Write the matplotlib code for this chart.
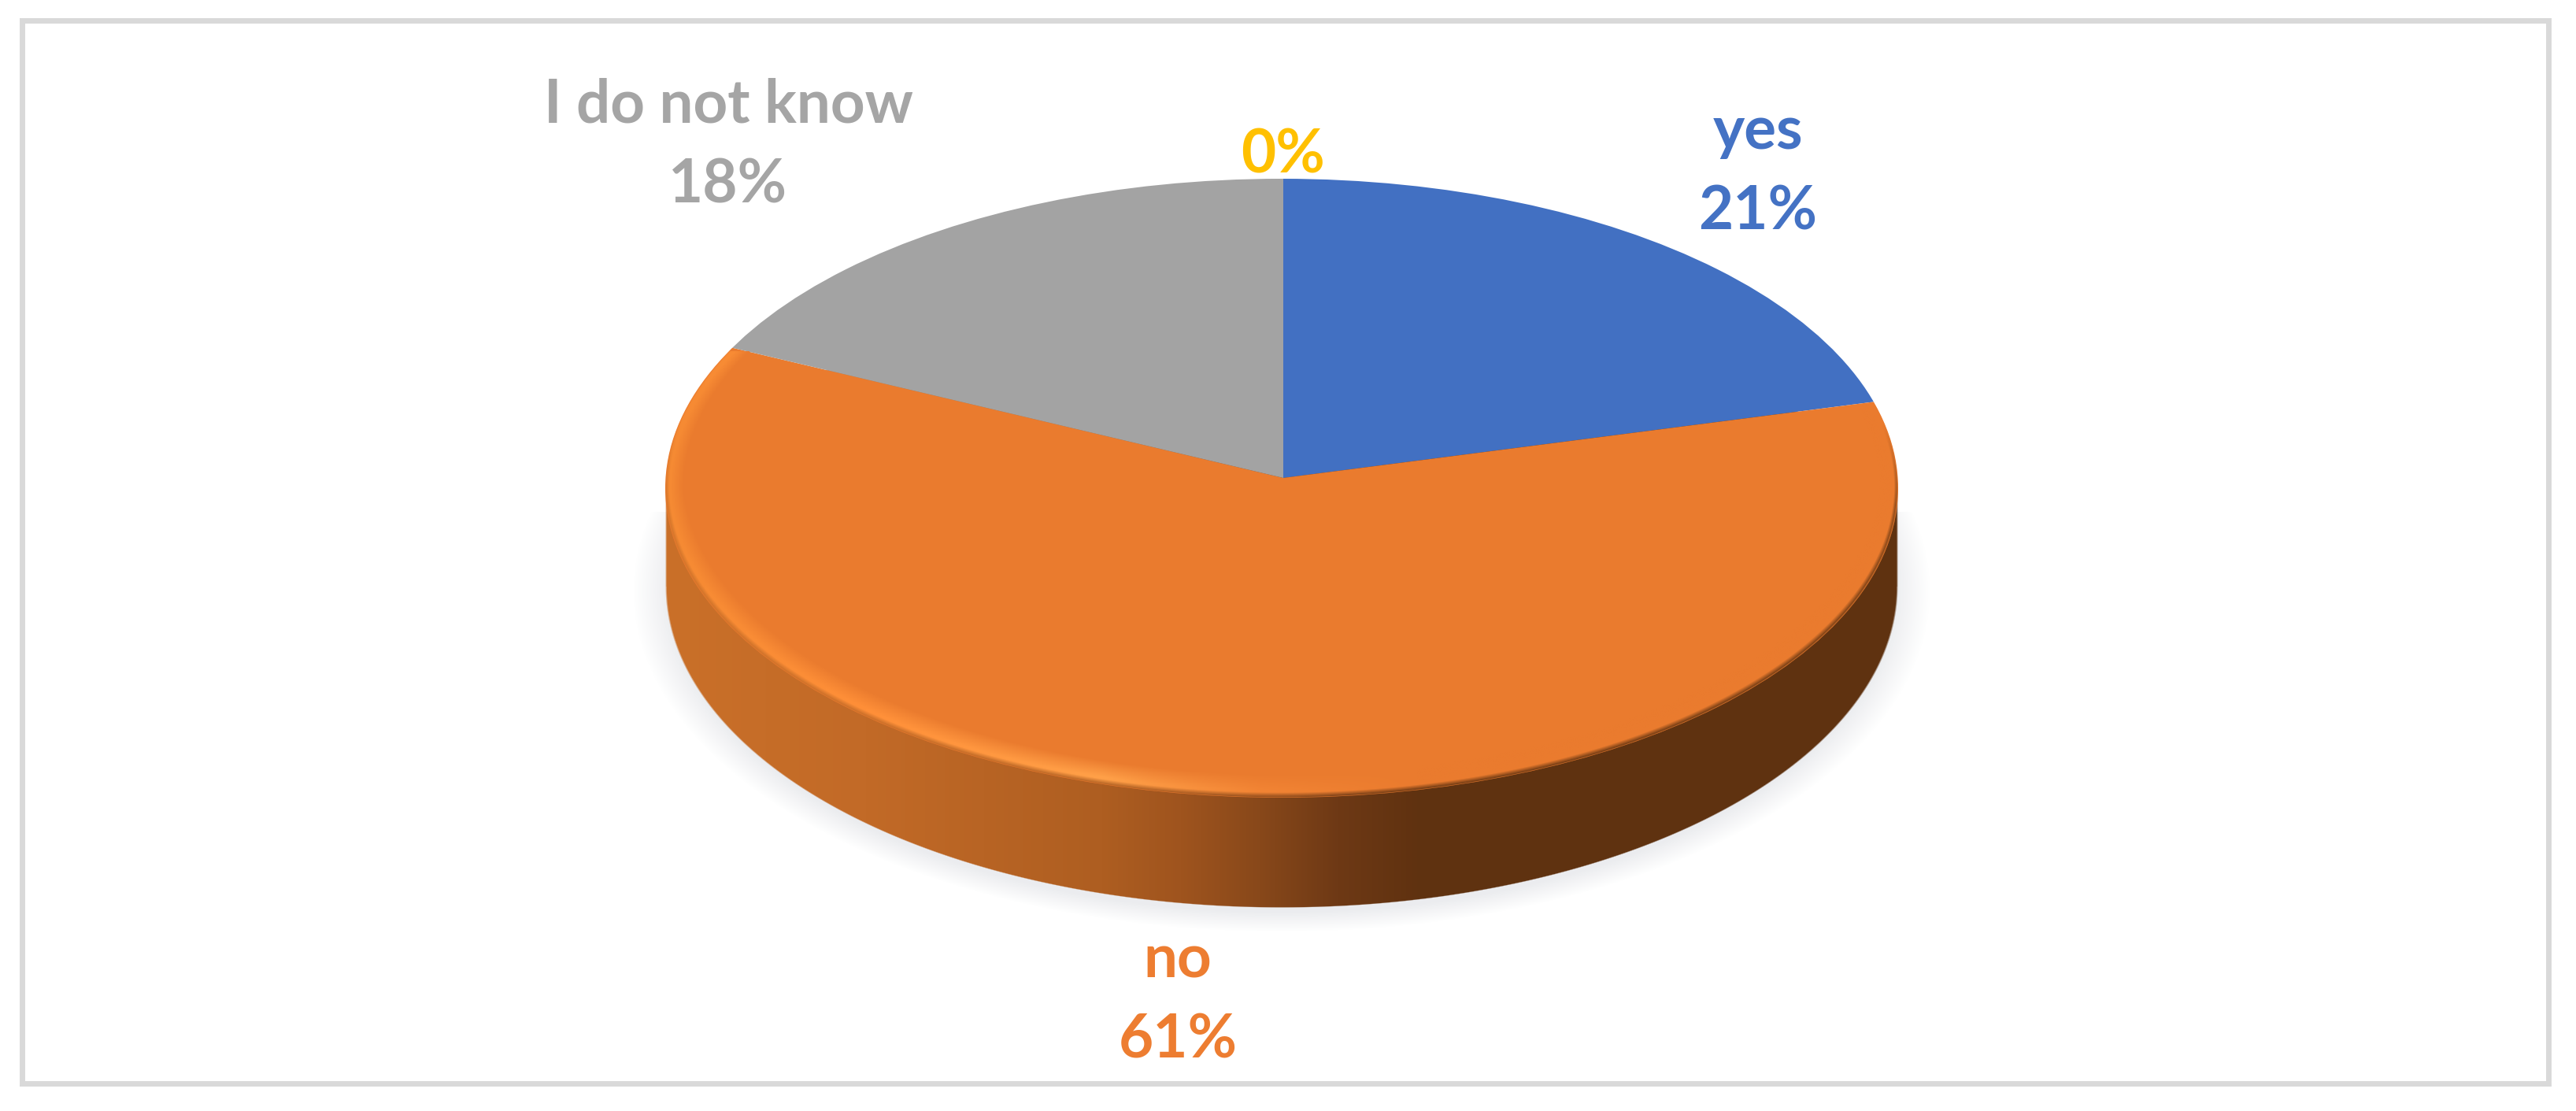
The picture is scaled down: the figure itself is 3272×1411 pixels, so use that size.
import numpy as np
import matplotlib
matplotlib.use("Agg")
import matplotlib.pyplot as plt
from matplotlib.colors import to_rgb
from matplotlib.patches import Circle, Rectangle

# chart data
categories = ["yes", "no", "I do not know", ""]
values = [21, 61, 18, 0]
colors = ["#4270C2", "#EA7B2E", "#A3A3A3", "#FFC000"]
text_colors = ["#4472C4", "#ED7D31", "#A5A5A5", "#FFC000"]

W, H = 3273, 1411
cx, cy, rx, ry = 1628, 620, 783, 393
apex_x, apex_y = 1630, 607
low_cy, low_ry = 745, 408

plt.rcParams["font.family"] = ["Lato", "DejaVu Sans"]
plt.rcParams["font.weight"] = "bold"

fig = plt.figure(figsize=(W / 100, H / 100), dpi=100, facecolor="white")


def pixel_axes(z):
    ax = fig.add_axes([0, 0, 1, 1], zorder=z)
    ax.set_xlim(0, W)
    ax.set_ylim(H, 0)
    ax.axis("off")
    return ax


def ramp(x, xs, cols):
    rgb = np.array([to_rgb(c) for c in cols])
    return np.stack([np.interp(x, xs, rgb[:, i]) for i in range(3)], axis=-1)


yy, xx = np.mgrid[0:H, 0:W]
xx = xx + 0.5
yy = yy + 0.5

# colours of the side wall and of the rim, left to right
side_x = [845, 1100, 1400, 1500, 1600, 1700, 1800, 2411]
side_c = ["#CA7029", "#C26A27", "#AE5E21", "#9F541E", "#88481A", "#6E3915", "#603210", "#5F3210"]
rim_x = [845, 1100, 1400, 1600, 1800, 2411]
rim_c = ["#F58A33", "#FF8F38", "#FFA048", "#F28434", "#EA7B2E", "#EA7B2E"]
side_rgb = ramp(xx, side_x, side_c)
rim_rgb = ramp(xx, rim_x, rim_c)
face_rgb = np.array(to_rgb(colors[1]))

ax_back = pixel_axes(0)
ax_back.add_patch(Rectangle((28, 26), 3209, 1350, fill=False, ec="#D9D9D9", lw=5))

# soft shadow under the disc
r_shadow = np.sqrt(((xx - cx) / (rx + 2)) ** 2 + ((yy - (low_cy + 6)) / (low_ry + 4)) ** 2)
a_shadow = np.clip((1.05 - r_shadow) / 0.06, 0, 1) * 0.22
a_shadow[yy < 650] = 0
shadow = np.zeros((H, W, 4))
shadow[..., :3] = to_rgb("#A8ACB8")
shadow[..., 3] = a_shadow
ax_back.imshow(shadow, extent=(0, W, H, 0), aspect="auto", interpolation="nearest", zorder=1)

# side wall
r_low = np.sqrt(((xx - cx) / rx) ** 2 + ((yy - low_cy) / low_ry) ** 2)
a_low = np.clip((1 - r_low) / 0.003, 0, 1)
a_mid = np.clip((rx - np.abs(xx - cx)) / 2, 0, 1) * ((yy > cy) & (yy < low_cy))
wall = np.zeros((H, W, 4))
wall[..., :3] = side_rgb
wall[..., 3] = np.maximum(a_low, a_mid)
ax_back.imshow(wall, extent=(0, W, H, 0), aspect="auto", interpolation="nearest", zorder=2)
ax_back.set_xlim(0, W)
ax_back.set_ylim(H, 0)

# top face, a pie in squashed axes, its wedges cut off at the rim
ax_pie = fig.add_axes([(cx - rx) / W, 1 - (cy + ry) / H, 2 * rx / W, 2 * ry / H], zorder=1)
ax_pie.patch.set_alpha(0)
wedges, _ = ax_pie.pie(values, colors=colors, startangle=90, counterclock=False, radius=1.25,
                       center=((apex_x - cx) / rx, (cy - apex_y) / ry),
                       wedgeprops={"linewidth": 0})
ax_pie.set_aspect("auto")
ax_pie.set_xlim(-1, 1)
ax_pie.set_ylim(-1, 1)
ax_pie.axis("off")
for w in wedges:
    w.set_clip_on(True)
    w.set_clip_path(Circle((0, 0), 1, transform=ax_pie.transData))

# bevel on the rim of the orange slice
ax_top = pixel_axes(2)
r_top = np.sqrt(((xx - cx) / rx) ** 2 + ((yy - cy) / ry) ** 2)
low = np.clip((yy - cy) / ry, 0, 1)
band = 0.03 + 0.05 * low
t = np.clip((r_top - (1 - band)) / band, 0, 1)
t1 = np.clip(t / 0.7, 0, 1)[..., None]
t2 = np.clip((t - 0.78) / 0.22, 0, 1)[..., None]
# no dark edge on the upper right part
t2 = t2 * np.clip((yy - 540) / 100, 0, 1)[..., None]
bevel_rgb = (face_rgb * (1 - t1) + rim_rgb * t1) * (1 - t2) + side_rgb * t2
orange_rim = ((xx < cx) & (yy > 446)) | ((xx >= cx) & (yy > 514))
bevel = np.zeros((H, W, 4))
bevel[..., :3] = bevel_rgb
bevel[..., 3] = np.clip((1 - r_top) / 0.003, 0, 1) * (t > 0) * orange_rim
ax_top.imshow(bevel, extent=(0, W, H, 0), aspect="auto", interpolation="nearest")
ax_top.set_xlim(0, W)
ax_top.set_ylim(H, 0)

# labels, two lines each
label_pos = [(2233, 189), (1496, 1242), (925, 155), (1630, 220)]
for name, val, col, (lx, ly) in zip(categories, values, text_colors, label_pos):
    lines = [name, f"{val}%"] if name else [f"{val}%"]
    for i, line in enumerate(lines):
        ax_top.text(lx, ly + i * 102, line, color=col, fontsize=55, fontweight="bold",
                    ha="center", va="baseline")

fig.savefig("out.png", dpi=100, facecolor="white")
